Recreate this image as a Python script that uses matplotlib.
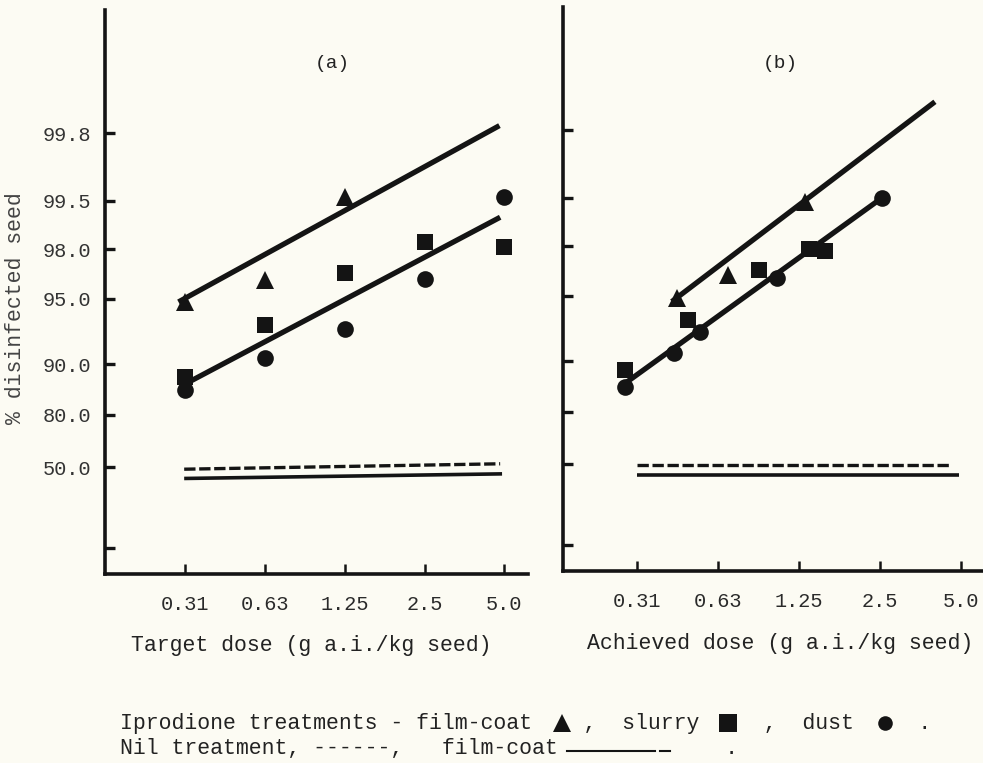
import numpy as np
import matplotlib
matplotlib.use("Agg")
import matplotlib.pyplot as plt
from matplotlib.lines import Line2D
from matplotlib.ticker import NullLocator, FixedLocator, FixedFormatter
from statistics import NormalDist

# ------------------------------------------------------------------ data
DOSE_TICKS = [0.3125, 0.625, 1.25, 2.5, 5.0]
DOSE_LABELS = ["0.31", "0.63", "1.25", "2.5", "5.0"]
PCT_TICKS = [10.0, 50.0, 80.0, 90.0, 95.0, 98.0, 99.5, 99.8]
PCT_LABELS = ["", "50.0", "80.0", "90.0", "95.0", "98.0", "99.5", "99.8"]

# (a) target dose
A_FILM_X = [0.3125, 0.625, 1.25]
A_FILM_Y = [94.8, 96.4, 99.52]
A_SLURRY_X = [0.3125, 0.625, 1.25, 2.5, 5.0]
A_SLURRY_Y = [87.9, 93.3, 96.8, 98.32, 98.09]
A_DUST_X = [0.3125, 0.625, 1.25, 2.5, 5.0]
A_DUST_Y = [85.4, 90.54, 93.0, 96.45, 99.52]
A_FIT_FILM_X = [0.294, 4.79]
A_FIT_FILM_Y = [94.8, 99.82]
A_FIT_OTHER_X = [0.298, 4.82]
A_FIT_OTHER_Y = [86.08, 99.17]
A_NIL_X = [0.309, 4.82]
A_NIL_Y = [48.76, 52.2]
A_NILFC_X = [0.309, 4.90]
A_NILFC_Y = [42.9, 45.8]

# (b) achieved dose
B_FILM_X = [0.440, 0.685, 1.32]
B_FILM_Y = [94.84, 96.52, 99.43]
B_SLURRY_X = [0.283, 0.486, 0.893, 1.37, 1.567]
B_SLURRY_Y = [88.55, 93.43, 96.82, 97.86, 97.8]
B_DUST_X = [0.283, 0.430, 0.537, 1.04, 2.54]
B_DUST_Y = [85.5, 90.73, 92.56, 96.3, 99.5]
B_FIT_FILM_X = [0.422, 4.01]
B_FIT_FILM_Y = [94.64, 99.867]
B_FIT_OTHER_X = [0.283, 2.54]
B_FIT_OTHER_Y = [86.15, 99.49]
B_NIL_X = [0.3125, 4.63]
B_NIL_Y = [49.84, 49.84]
B_NILFC_X = [0.3125, 4.94]
B_NILFC_Y = [43.5, 43.5]

# ------------------------------------------------------------------ hand-drawn probability scale
ANCHOR_PCT = [50.0, 80.0, 90.0, 95.0, 98.0, 99.5, 99.8]
ANCHOR_POS = [106.75, 159.5, 210.0, 275.5, 325.0, 373.5, 441.0]
_N = NormalDist()
ANCHOR_Z = [_N.inv_cdf(p / 100.0) for p in ANCHOR_PCT]


def _pl(x, xp, fp):
    x = np.atleast_1d(np.asarray(x, dtype=float))
    y = np.interp(x, xp, fp)
    lo = x < xp[0]
    hi = x > xp[-1]
    y[lo] = fp[0] + (x[lo] - xp[0]) * (fp[1] - fp[0]) / (xp[1] - xp[0])
    y[hi] = fp[-1] + (x[hi] - xp[-1]) * (fp[-1] - fp[-2]) / (xp[-1] - xp[-2])
    return y


_probit = np.vectorize(lambda v: _N.inv_cdf(v / 100.0), otypes=[float])
_cdf = np.vectorize(lambda z: 100.0 * _N.cdf(z), otypes=[float])


def fwd(p):
    p = np.asarray(p, dtype=float)
    shp = p.shape
    pc = np.clip(np.atleast_1d(p), 1e-7, 100 - 1e-7)
    out = _pl(_probit(pc), ANCHOR_Z, ANCHOR_POS)
    return out.reshape(shp)


def inv(h):
    h = np.asarray(h, dtype=float)
    shp = h.shape
    z = _pl(np.atleast_1d(h), ANCHOR_POS, ANCHOR_Z)
    return _cdf(z).reshape(shp)


# ------------------------------------------------------------------ figure
W, H = 983, 763
BG = "#fcfbf3"
INK = "#141414"
fig = plt.figure(figsize=(W / 100, H / 100), dpi=100, facecolor=BG)

FONT = "Liberation Mono"


def fx(px):
    return px / W


def fy(py):
    return 1 - py / H


def make_ax(left, right, top, bottom):
    ax = fig.add_axes([fx(left), fy(bottom), (right - left) / W, (bottom - top) / H])
    ax.set_facecolor(BG)
    ax.set_yscale("function", functions=(fwd, inv))
    ax.set_xscale("log", base=2)
    for s in ("top", "right"):
        ax.spines[s].set_visible(False)
    for s in ("left", "bottom"):
        ax.spines[s].set_linewidth(2.6)
        ax.spines[s].set_color(INK)
    ax.yaxis.set_major_locator(FixedLocator(PCT_TICKS))
    ax.yaxis.set_minor_locator(NullLocator())
    ax.xaxis.set_major_locator(FixedLocator(DOSE_TICKS))
    ax.xaxis.set_major_formatter(FixedFormatter(DOSE_LABELS))
    ax.xaxis.set_minor_locator(NullLocator())
    ax.tick_params(axis="y", direction="in", length=7.5, width=2.4, color=INK,
                   labelsize=14.6, pad=9.5, labelcolor="#333333")
    ax.tick_params(axis="x", direction="in", length=7.5, width=1.8, color=INK,
                   labelsize=14.6, pad=15, labelcolor="#2a2a2a")
    for lab in ax.get_xticklabels() + ax.get_yticklabels():
        lab.set_fontfamily(FONT)
    ax.set_ylim(inv(0.0), inv(564.0))
    return ax


def draw_panel(ax, film, slurry, dust, fit_film, fit_other, nil, nilfc):
    ax.plot(nilfc[0], nilfc[1], color=INK, lw=2.6, solid_capstyle="butt")
    ax.plot(nil[0], nil[1], color=INK, lw=2.4, dashes=(3.4, 1.1))
    ax.plot(film[0], film[1], ls="none", marker="^", ms=12.5, color=INK, mew=0)
    ax.plot(slurry[0], slurry[1], ls="none", marker="s", ms=12, color=INK, mew=0)
    ax.plot(dust[0], dust[1], ls="none", marker="o", ms=12, color=INK, mew=0)
    ax.plot(fit_film[0], fit_film[1], color=INK, lw=3.8, solid_capstyle="butt")
    ax.plot(fit_other[0], fit_other[1], color=INK, lw=3.8, solid_capstyle="butt")


ax_a = make_ax(104.6, 528, 10, 574)
ax_a.set_xlim(0.1547, 6.14)
ax_a.yaxis.set_major_formatter(FixedFormatter(PCT_LABELS))
draw_panel(ax_a, (A_FILM_X, A_FILM_Y), (A_SLURRY_X, A_SLURRY_Y), (A_DUST_X, A_DUST_Y),
           (A_FIT_FILM_X, A_FIT_FILM_Y), (A_FIT_OTHER_X, A_FIT_OTHER_Y),
           (A_NIL_X, A_NIL_Y), (A_NILFC_X, A_NILFC_Y))

ax_b = make_ax(563, 983, 7, 571)
ax_b.set_xlim(0.1664, 6.05)
ax_b.yaxis.set_major_formatter(FixedFormatter([""] * len(PCT_TICKS)))
draw_panel(ax_b, (B_FILM_X, B_FILM_Y), (B_SLURRY_X, B_SLURRY_Y), (B_DUST_X, B_DUST_Y),
           (B_FIT_FILM_X, B_FIT_FILM_Y), (B_FIT_OTHER_X, B_FIT_OTHER_Y),
           (B_NIL_X, B_NIL_Y), (B_NILFC_X, B_NILFC_Y))

# ------------------------------------------------------------------ texts
TXT = dict(family=FONT, color="#222222")
fig.text(fx(332), fy(63), "(a)", ha="center", va="center", fontsize=14, **TXT)
fig.text(fx(780), fy(63), "(b)", ha="center", va="center", fontsize=14, **TXT)
fig.text(fx(16), fy(308), "% disinfected seed", rotation=90, ha="center", va="center",
         fontsize=15.5, family=FONT, color="#444444")
fig.text(fx(311.7), fy(645), "Target dose (g a.i./kg seed)", ha="center", va="center",
         fontsize=15.5, **TXT)
fig.text(fx(780), fy(643), "Achieved dose (g a.i./kg seed)", ha="center", va="center",
         fontsize=15.5, **TXT)

line1 = "Iprodione treatments - film-coat    ,  slurry     ,  dust     ."
line2 = "Nil treatment, ------,   film-coat             ."
fig.text(fx(120), fy(723), line1, ha="left", va="center", fontsize=15.5, **TXT)
fig.text(fx(120), fy(749), line2, ha="left", va="center", fontsize=15.5, **TXT)

# legend symbols
for mk, xpx, ms in (("^", 561.7, 12.5), ("s", 727.5, 13.5), ("o", 885, 10.5)):
    fig.add_artist(Line2D([fx(xpx)], [fy(723)], transform=fig.transFigure, marker=mk,
                          ms=ms, color=INK, mew=0, ls="none"))
fig.add_artist(Line2D([fx(567), fx(655)], [fy(751), fy(751)], transform=fig.transFigure,
                      color=INK, lw=1.5))
fig.add_artist(Line2D([fx(660), fx(670)], [fy(751), fy(751)], transform=fig.transFigure,
                      color=INK, lw=1.5))

fig.savefig("out.png", dpi=100, facecolor=BG)
